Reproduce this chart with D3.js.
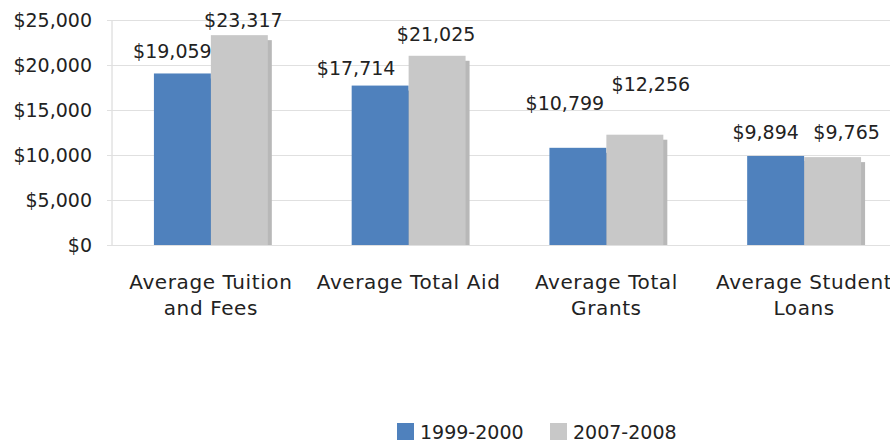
<!DOCTYPE html>
<html>
<head>
<meta charset="utf-8">
<script src="https://cdn.jsdelivr.net/npm/d3@7"></script>
<style>
  html, body { margin: 0; padding: 0; background: #fff; }
  svg text { font-family: "DejaVu Sans", sans-serif; fill: #222; }
</style>
</head>
<body>
<svg id="chart" width="890" height="445"></svg>
<script>
// Chart data
const categories = [
  ["Average Tuition", "and Fees"],
  ["Average Total Aid"],
  ["Average Total", "Grants"],
  ["Average Student", "Loans"]
];
const seriesNames = ["1999-2000", "2007-2008"];
const values1999 = [19059, 17714, 10799, 9894];
const values2007 = [23317, 21025, 12256, 9765];
const yTicks = [0, 5000, 10000, 15000, 20000, 25000];

// Presentation
const colors = ["#4f81bd", "#c8c8c8"];
const shadowColors = ["#3f6a9e", "#b8b8b8"];
// hand-placed label nudges [dx, dy] per series, per category
const labelNudge = [
  [[-10, -22], [-24, -18], [-13, -45], [-10, -24]],
  [[4, -15], [-1, -22], [16, -51], [14, -25]]
];

const svg = d3.select("#chart");
const plotLeft = 112, plotTop = 20, plotBottom = 245, plotRight = 903;

const x0 = d3.scaleBand()
  .domain(d3.range(categories.length))
  .range([plotLeft, plotRight])
  .paddingInner(0.424)
  .paddingOuter(0.212);
const x1 = d3.scaleBand()
  .domain(d3.range(seriesNames.length))
  .range([0, x0.bandwidth()]);
const y = d3.scaleLinear().domain([0, 25000]).range([plotBottom, plotTop]);

const fmt = d3.format("$,");

// gridlines + y axis
const yAxis = d3.axisLeft(y)
  .tickValues(yTicks)
  .tickFormat(fmt)
  .tickSize(-(890 - plotLeft))
  .tickPadding(20);
const gy = svg.append("g").attr("transform", `translate(${plotLeft},0)`).call(yAxis);
gy.select(".domain").attr("stroke", "#d4d4d4").attr("d", `M0,${plotTop}V${plotBottom}`);
gy.selectAll(".tick line").attr("stroke", "#e0e0e0").attr("x1", -5);
gy.selectAll(".tick text")
  .attr("font-size", 19)
  .attr("fill", "#222")
  .style("font-family", "'DejaVu Sans', sans-serif");

// bars
const series = [values1999, values2007];
const rows = [];
series.forEach((vals, s) => vals.forEach((v, i) => rows.push({ s, i, v })));

const barG = svg.append("g");
// soft drop shadow
barG.selectAll("rect.shadow")
  .data(rows)
  .join("rect")
  .attr("class", "shadow")
  .attr("x", d => x0(d.i) + x1(d.s) + 4)
  .attr("y", d => y(d.v) + 5)
  .attr("width", x1.bandwidth())
  .attr("height", d => plotBottom - y(d.v) - 5)
  .attr("fill", d => shadowColors[d.s]);
barG.selectAll("rect.bar")
  .data(rows)
  .join("rect")
  .attr("class", "bar")
  .attr("x", d => x0(d.i) + x1(d.s))
  .attr("y", d => y(d.v))
  .attr("width", x1.bandwidth())
  .attr("height", d => plotBottom - y(d.v))
  .attr("fill", d => colors[d.s]);

// value labels
svg.append("g").selectAll("text")
  .data(rows)
  .join("text")
  .attr("x", d => x0(d.i) + x1(d.s) + x1.bandwidth() / 2 + labelNudge[d.s][d.i][0])
  .attr("y", d => y(d.v) + labelNudge[d.s][d.i][1])
  .attr("text-anchor", "middle")
  .attr("dominant-baseline", "central")
  .attr("font-size", 19)
  .text(d => fmt(d.v));

// category labels
const catG = svg.append("g").selectAll("text")
  .data(categories)
  .join("text")
  .attr("x", (d, i) => x0(i) + x0.bandwidth() / 2)
  .attr("y", 282)
  .attr("text-anchor", "middle")
  .attr("dominant-baseline", "central")
  .attr("font-size", 20)
  .attr("letter-spacing", 0.6);
catG.selectAll("tspan")
  .data(d => d)
  .join("tspan")
  .attr("x", function () { return this.parentNode.getAttribute("x"); })
  .attr("dy", (d, j) => j === 0 ? 0 : 26)
  .text(d => d);

// legend
const legend = svg.append("g").attr("transform", "translate(397,423)");
const legendX = [0, 153];
seriesNames.forEach((name, s) => {
  const g = legend.append("g").attr("transform", `translate(${legendX[s]},0)`);
  g.append("rect").attr("width", 17).attr("height", 17).attr("fill", colors[s]);
  g.append("text").attr("x", 23).attr("y", 9).attr("dominant-baseline", "central")
    .attr("font-size", 19).text(name);
});
</script>
</body>
</html>
